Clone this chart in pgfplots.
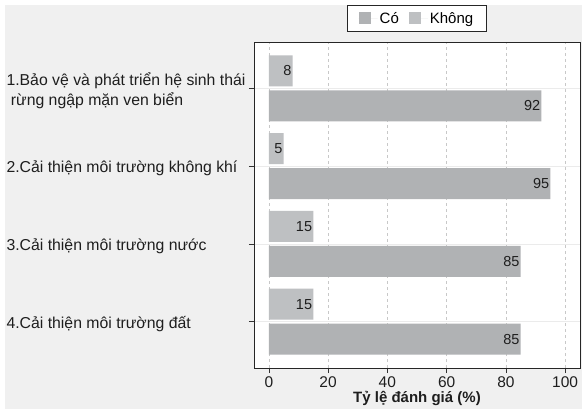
\documentclass[border=0pt]{standalone}
\usepackage{fontspec}
\setmainfont{Liberation Sans}
\usepackage{pgfplots}
\pgfplotsset{compat=1.18}
\definecolor{bgpanel}{RGB}{240,240,240}
\definecolor{cobar}{RGB}{176,178,180}
\definecolor{khongbar}{RGB}{190,192,194}
\definecolor{gridc}{RGB}{200,200,200}
\definecolor{txt}{RGB}{30,30,30}
\begin{document}
\begin{tikzpicture}[x=1pt,y=1pt]
\fill[white] (0,0) rectangle (582,-409);
\fill[bgpanel] (5,-5) rectangle (582,-409);
\begin{axis}[
  at={(254pt,-368pt)}, anchor=south west,
  scale only axis, width=326pt, height=326pt,
  xmin=-5, xmax=105, ymin=-0.595, ymax=3.595,
  /pgf/number format/assume math mode=true,
  xtick={0,20,40,60,80,100},
  ytick={0,1,2,3},
  yticklabels={{4.Cải thiện môi trường đất},{3.Cải thiện môi trường nước},{2.Cải thiện môi trường không khí},{1.Bảo vệ và phát triển hệ sinh thái\\\hspace{0.28em}rừng ngập mặn ven biển}},
  tick align=outside, major tick length=5pt,
  tick pos=left,
  tick style={black!80, line width=0.6pt},
  axis line style={black!85, line width=0.8pt},
  axis background/.style={fill=white},
  xmajorgrids, ymajorgrids,
  x grid style={gridc, dash pattern=on 3pt off 3pt, line width=0.5pt},
  y grid style={black!8, line width=0.5pt},
  xbar, bar width=31pt,
  point meta=x,
  nodes near coords,
  nodes near coords style={anchor=east, inner sep=1pt, text=txt, font=\fontsize{14.5}{14.5}\selectfont},
  xticklabel style={font=\fontsize{15.5}{15.5}\selectfont, text=txt},
  yticklabel style={font=\fontsize{15.8}{20}\selectfont, text=txt, align=left, anchor=west, xshift=-246pt, yshift=-2pt},
  xlabel={\textbf{Tỷ lệ đánh giá (\%)}},
  xlabel style={font=\fontsize{15}{15}\selectfont, text=txt, at={(axis description cs:0.5,0)}, anchor=center, yshift=-30pt},
  legend columns=2,
  legend style={at={(0.5,1)}, anchor=south, yshift=10pt, draw=black!85, fill=white, line width=0.6pt,
    font=\fontsize{15}{15}\selectfont, inner xsep=11pt, inner ysep=5pt,
    /tikz/every even column/.append style={column sep=8pt}},
  legend image code/.code={\fill[#1] (0pt,-6pt) rectangle (12pt,6pt); \path (0pt,0pt) -- (19pt,0pt);},
]
\addplot[fill=cobar, draw=none, bar shift=-17.5pt] coordinates {(85,0) (85,1) (95,2) (92,3)};
\addplot[fill=khongbar, draw=none, bar shift=17.5pt] coordinates {(15,0) (15,1) (5,2) (8,3)};
\legend{Có, Không}
\end{axis}
\end{tikzpicture}
\end{document}
